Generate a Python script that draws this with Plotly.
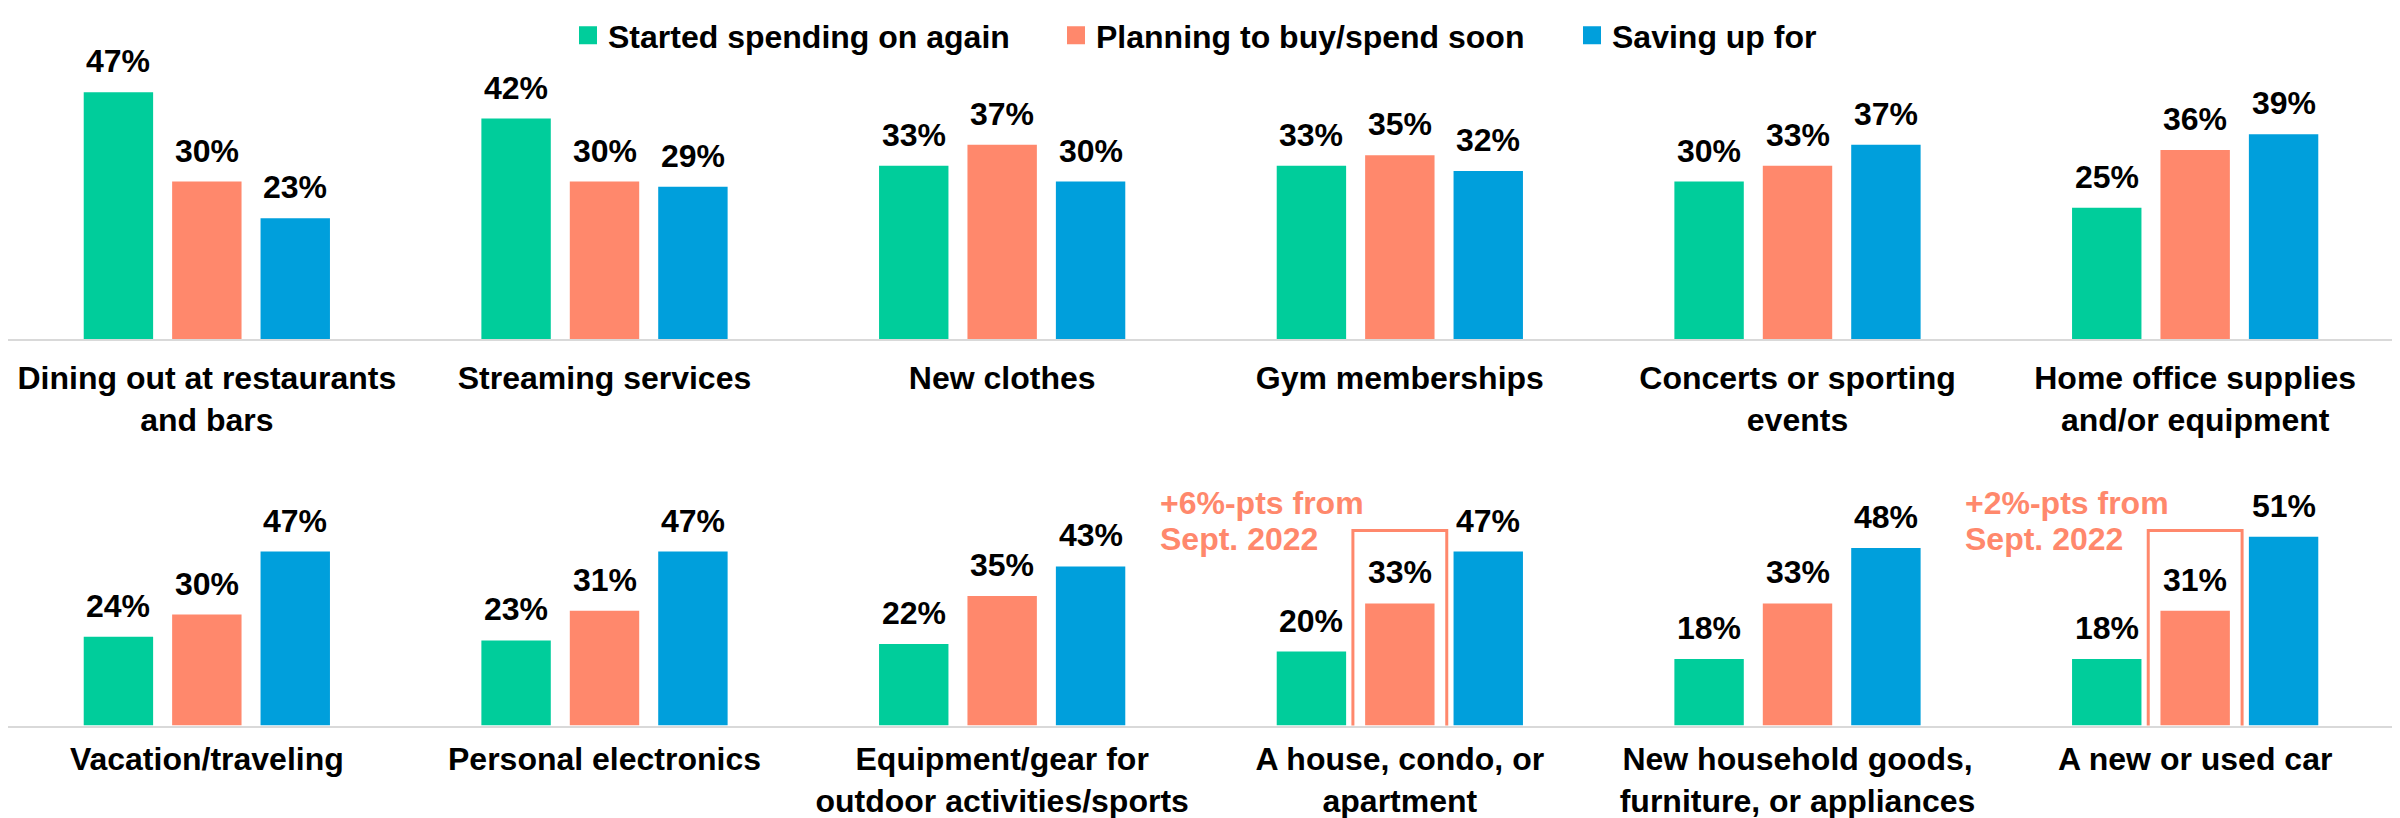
import plotly.graph_objects as go

series_names = ["Started spending on again", "Planning to buy/spend soon", "Saving up for"]
series_colors = ["#00CD9B", "#FF886C", "#009FDC"]

row1_categories = ["Dining out at restaurants<br>and bars", "Streaming services", "New clothes",
                   "Gym memberships", "Concerts or sporting<br>events", "Home office supplies<br>and/or equipment"]
row1_started = [47, 42, 33, 33, 30, 25]
row1_planning = [30, 30, 37, 35, 33, 36]
row1_saving = [23, 29, 30, 32, 37, 39]

row2_categories = ["Vacation/traveling", "Personal electronics", "Equipment/gear for<br>outdoor activities/sports",
                   "A house, condo, or<br>apartment", "New household goods,<br>furniture, or appliances", "A new or used car"]
row2_started = [24, 23, 22, 20, 18, 18]
row2_planning = [30, 31, 35, 33, 33, 31]
row2_saving = [47, 47, 43, 47, 48, 51]

highlight_line1 = ["+6%-pts from", "+2%-pts from"]
highlight_line2 = ["Sept. 2022", "Sept. 2022"]
highlight_index = [3, 5]

FONT = "Liberation Sans, Arial, sans-serif"
W, H = 2392, 810          # page body has an 8px margin
PLOT_W = 2386
BARGAP = 0.333
SLOT = (1 - BARGAP) / 3
CORAL = "#FF886C"

fig = go.Figure()
rows = [
    (row1_categories, [row1_started, row1_planning, row1_saving], "x", "y"),
    (row2_categories, [row2_started, row2_planning, row2_saving], "x2", "y2"),
]
annotations = []
for r, (cats, vals, xa, ya) in enumerate(rows):
    for k in range(3):
        fig.add_trace(go.Bar(
            x=cats, y=vals[k], name=series_names[k], marker_color=series_colors[k],
            marker_line_width=0, xaxis=xa, yaxis=ya, showlegend=False,
            hoverinfo="skip"))
        for i, v in enumerate(vals[k]):
            annotations.append(dict(
                x=i + (k - 1) * SLOT, y=v, xref=xa, yref=ya, text=f"{v}%",
                showarrow=False, yanchor="bottom", yshift=11,
                font=dict(family=FONT, size=32, color="#000000", weight="bold")))

# legend-only entries (one legend per item so each can be placed where the reference puts it)
legend_text_start = [605, 1093, 1609]   # px in figure space where each legend label starts
legend_keys = ["legend", "legend2", "legend3"]
legend_layout = {}
for k in range(3):
    fig.add_trace(go.Scatter(
        x=[None], y=[None], mode="markers", name=series_names[k],
        marker=dict(symbol="square", size=16, color=series_colors[k],
                    line=dict(width=2, color=series_colors[k])),
        legend=legend_keys[k], xaxis="x", yaxis="y", hoverinfo="skip", showlegend=True))
    legend_layout[legend_keys[k]] = dict(
        x=(legend_text_start[k] - 45) / PLOT_W, xanchor="left",
        y=1, yanchor="top", orientation="h",
        font=dict(family=FONT, size=32, color="#000000", weight="bold"),
        bgcolor="rgba(0,0,0,0)", borderwidth=0, itemclick=False, itemdoubleclick=False)

# highlight boxes and notes on second row
shapes = []
note_x = [2.393, 4.415]
for j, idx in enumerate(highlight_index):
    shapes.append(dict(type="rect", xref="x2", yref="y2", x0=idx - 0.118, x1=idx + 0.118,
                       y0=-5.4, y1=52.7, line=dict(color=CORAL, width=3),
                       fillcolor="rgba(0,0,0,0)"))
    for line_no, txt in enumerate([highlight_line1[j], highlight_line2[j]]):
        annotations.append(dict(x=note_x[j], y=1 - 475 / H, xref="x2", yref="paper",
                                text=txt, showarrow=False, xanchor="left",
                                yanchor="top", align="left", yshift=-36 * line_no,
                                font=dict(family=FONT, size=32, color=CORAL, weight="bold")))

axis_common = dict(showline=True, linecolor="#D9D9D9", linewidth=2, showgrid=False,
                   zeroline=False, ticks="outside", tickcolor="rgba(0,0,0,0)",
                   tickfont=dict(family=FONT, size=32, color="#000000", weight="bold"),
                   automargin=False, type="category", fixedrange=True)
yaxis_common = dict(visible=False, showgrid=False, zeroline=False, fixedrange=True)

fig.update_layout(
    width=W, height=H,
    margin=dict(l=0, r=W - PLOT_W, t=0, b=0),
    paper_bgcolor="white", plot_bgcolor="white",
    barmode="group", bargap=BARGAP, bargroupgap=0.215,
    font=dict(family=FONT, size=32, color="#000000", weight="bold"),
    xaxis=dict(axis_common, anchor="y", domain=[0, 1], ticklen=10),
    yaxis=dict(yaxis_common, domain=[1 - 331 / H, 1 - 72 / H], range=[0, 259 / 5.25]),
    xaxis2=dict(axis_common, anchor="y2", domain=[0, 1], ticklen=4),
    yaxis2=dict(yaxis_common, domain=[1 - 717.5 / H, 1 - 492 / H], range=[0, 225.5 / 3.70]),
    annotations=annotations,
    shapes=shapes,
    showlegend=True,
    **legend_layout,
)

fig.write_html("out.html")
